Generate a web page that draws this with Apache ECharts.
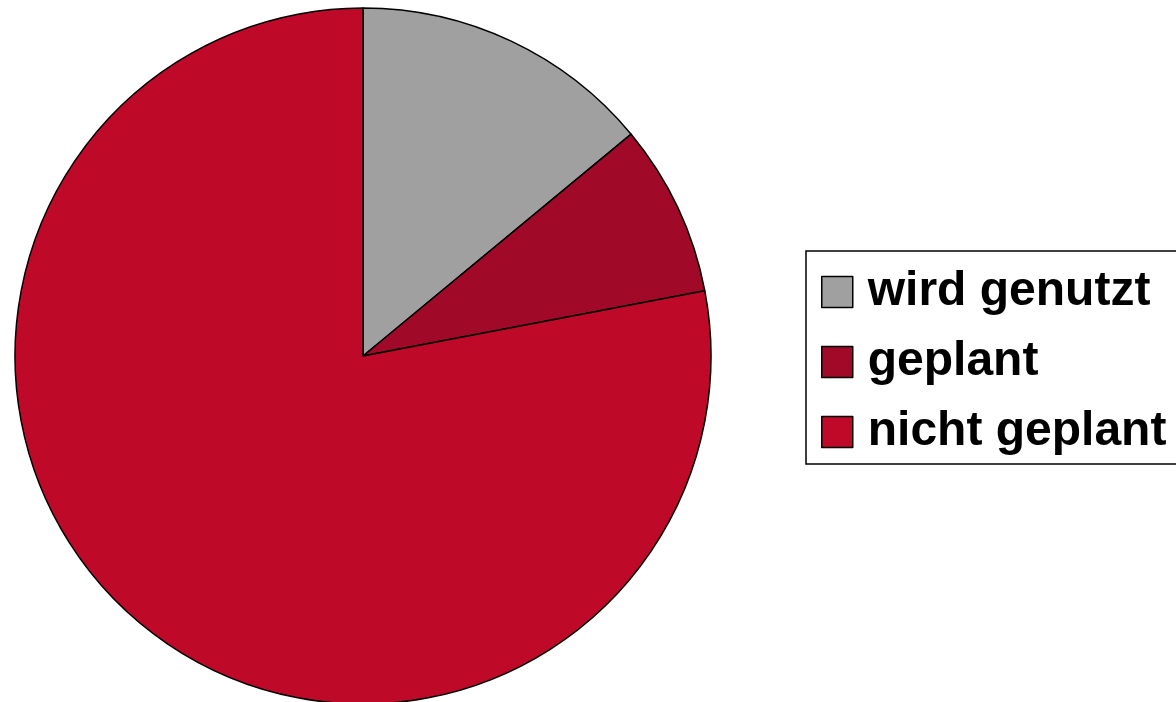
<!DOCTYPE html>
<html>
<head>
<meta charset="utf-8">
<script src="https://cdn.jsdelivr.net/npm/echarts@6/dist/echarts.min.js"></script>
<style>
html,body{margin:0;padding:0;background:#fff;}
#chart{width:1176px;height:702px;}
</style>
</head>
<body>
<div id="chart"></div>
<script>
const categories = ['wird genutzt', 'geplant', 'nicht geplant'];
const values = [14, 8, 78];
const colors = ['#A0A0A0', '#A00A28', '#BE0A28'];

const chart = echarts.init(document.getElementById('chart'), null, {renderer: 'canvas'});
chart.setOption({
  animation: false,
  backgroundColor: '#ffffff',
  legend: {
    orient: 'vertical',
    left: 806,
    top: 251,
    data: categories,
    icon: 'rect',
    itemWidth: 31,
    itemHeight: 31,
    itemGap: 22,
    borderColor: '#000',
    borderWidth: 1.5,
    borderRadius: 0,
    padding: [17, 20, 8, 15],
    textStyle: {
      fontFamily: 'Liberation Sans, Arial, sans-serif',
      fontWeight: 'bold',
      fontSize: 48,
      lineHeight: 48,
      color: '#000',
      padding: [0, 0, 0, 10]
    },
    itemStyle: {borderColor: '#000', borderWidth: 1.5}
  },
  series: [{
    type: 'pie',
    center: [363, 356],
    radius: 348,
    startAngle: 90,
    clockwise: true,
    label: {show: false},
    labelLine: {show: false},
    emphasis: {disabled: true},
    itemStyle: {borderColor: '#000', borderWidth: 1.5},
    data: categories.map((c, i) => ({name: c, value: values[i], itemStyle: {color: colors[i]}}))
  }]
});
</script>
</body>
</html>
